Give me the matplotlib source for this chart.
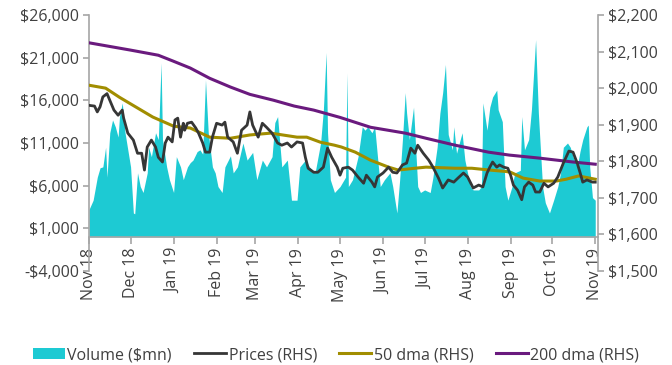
import matplotlib
matplotlib.use("Agg")
import matplotlib.pyplot as plt
import matplotlib.dates as mdates
from matplotlib.patches import Patch
from matplotlib.lines import Line2D
import pandas as pd

plt.rcParams['font.family'] = ['Open Sans', 'DejaVu Sans']

# ---------------- data ----------------
vol_dates = ["2018-11-01","2018-11-04","2018-11-07","2018-11-09","2018-11-11","2018-11-13","2018-11-14",
"2018-11-16","2018-11-18","2018-11-20","2018-11-22","2018-11-23","2018-11-25","2018-11-27","2018-12-01",
"2018-12-03","2018-12-04","2018-12-06","2018-12-08","2018-12-10","2018-12-13","2018-12-14","2018-12-16",
"2018-12-19","2018-12-21","2018-12-23","2018-12-24","2018-12-27","2018-12-29","2019-01-01","2019-01-03",
"2019-01-06","2019-01-08","2019-01-11","2019-01-13","2019-01-15","2019-01-18","2019-01-20","2019-01-22",
"2019-01-24","2019-01-26","2019-01-29","2019-01-31","2019-02-02","2019-02-05","2019-02-07","2019-02-11",
"2019-02-13","2019-02-16","2019-02-20","2019-02-23","2019-02-27","2019-03-02","2019-03-06","2019-03-09",
"2019-03-13","2019-03-15","2019-03-17","2019-03-20","2019-03-24","2019-03-27","2019-03-31","2019-04-02",
"2019-04-06","2019-04-09","2019-04-13","2019-04-17","2019-04-19","2019-04-21","2019-04-22","2019-04-24",
"2019-04-27","2019-05-01","2019-05-05","2019-05-06","2019-05-07","2019-05-10","2019-05-14","2019-05-17",
"2019-05-19","2019-05-21","2019-05-24","2019-05-26","2019-05-30","2019-06-02","2019-06-06","2019-06-08",
"2019-06-11","2019-06-13","2019-06-15","2019-06-17","2019-06-18","2019-06-20","2019-06-23","2019-06-26",
"2019-06-28","2019-07-01","2019-07-05","2019-07-07","2019-07-10","2019-07-12","2019-07-14","2019-07-16",
"2019-07-18","2019-07-21","2019-07-22","2019-07-24","2019-07-28","2019-07-30","2019-08-03","2019-08-05",
"2019-08-09","2019-08-11","2019-08-12","2019-08-15","2019-08-17","2019-08-19","2019-08-22","2019-08-23",
"2019-08-26","2019-08-28","2019-08-30","2019-09-02","2019-09-04","2019-09-08","2019-09-09","2019-09-11",
"2019-09-14","2019-09-16","2019-09-19","2019-09-21","2019-09-24","2019-09-26","2019-09-29","2019-10-02",
"2019-10-05","2019-10-07","2019-10-09","2019-10-12","2019-10-14","2019-10-16","2019-10-19","2019-10-21",
"2019-10-23","2019-10-26","2019-10-27","2019-10-28","2019-10-30","2019-11-01"]
vol_values = [3200,4300,7000,8100,8200,10500,7000,
12200,13700,12900,11700,14100,15700,12200,8200,
2800,2700,7500,5900,5200,7500,10500,9400,
12200,11400,20400,11400,8200,6700,5200,9400,
8200,6700,8200,8700,9000,10000,10200,9700,
18400,12200,8200,7500,5900,5200,8200,9500,
7500,8200,11000,9000,9900,6700,9000,8200,
9400,13400,14100,8200,9000,4300,4300,8200,
9000,8200,7500,11000,14900,21600,12200,6700,
5200,5900,7000,19200,5900,6700,9400,12900,
12500,12900,12200,12900,5900,6700,7500,5900,
2800,6700,11400,16900,14500,11400,15200,5900,
5200,5500,5200,7000,10500,14500,16900,20200,
12000,10200,12900,9800,12200,9000,5900,5500,
5500,5900,15700,12500,15200,16400,17200,14900,
13500,5900,4300,5900,7500,7800,14100,10200,
11400,14900,23100,14500,5900,4000,2800,4300,
5900,7500,10500,11000,10500,9400,8200,10000,
11400,12900,13100,8200,4600,4300]

price_dates = ["2018-11-01","2018-11-05","2018-11-07","2018-11-09","2018-11-11","2018-11-14","2018-11-16",
"2018-11-19","2018-11-22","2018-11-25","2018-11-26","2018-11-29","2018-12-03","2018-12-06","2018-12-09",
"2018-12-11","2018-12-13","2018-12-16","2018-12-19","2018-12-21","2018-12-24","2018-12-26","2018-12-28",
"2018-12-31","2019-01-02","2019-01-04","2019-01-06","2019-01-08","2019-01-09","2019-01-11","2019-01-14",
"2019-01-17","2019-01-19","2019-01-22","2019-01-24","2019-01-27","2019-01-29","2019-02-01","2019-02-05",
"2019-02-07","2019-02-09","2019-02-13","2019-02-16","2019-02-19","2019-02-23","2019-02-25","2019-02-27",
"2019-03-03","2019-03-06","2019-03-09","2019-03-13","2019-03-17","2019-03-20","2019-03-24","2019-03-27",
"2019-03-31","2019-04-04","2019-04-06","2019-04-08","2019-04-12","2019-04-15","2019-04-19","2019-04-22",
"2019-04-25","2019-04-29","2019-05-01","2019-05-03","2019-05-07","2019-05-10","2019-05-14","2019-05-18",
"2019-05-20","2019-05-24","2019-05-26","2019-05-28","2019-06-01","2019-06-05","2019-06-08","2019-06-11",
"2019-06-15","2019-06-18","2019-06-21","2019-06-24","2019-06-26","2019-06-30","2019-07-04","2019-07-07",
"2019-07-11","2019-07-14","2019-07-18","2019-07-22","2019-07-25","2019-07-29","2019-08-01","2019-08-05",
"2019-08-09","2019-08-12","2019-08-15","2019-08-17","2019-08-19","2019-08-22","2019-08-24","2019-08-27",
"2019-08-30","2019-09-01","2019-09-03","2019-09-06","2019-09-09","2019-09-11","2019-09-14","2019-09-17",
"2019-09-19","2019-09-22","2019-09-25","2019-09-28","2019-10-02","2019-10-05","2019-10-09","2019-10-13",
"2019-10-16","2019-10-19","2019-10-21","2019-10-23","2019-10-26","2019-10-30","2019-11-01"]
price_values = [1953,1951,1935,1949,1976,1985,1967,
1940,1926,1940,1918,1877,1858,1822,1822,
1776,1839,1858,1839,1811,1798,1850,1866,
1853,1913,1918,1866,1904,1885,1904,1907,
1891,1877,1850,1825,1825,1866,1904,1899,
1907,1866,1853,1822,1885,1899,1935,1899,
1866,1904,1893,1877,1850,1844,1850,1839,
1853,1850,1811,1781,1770,1770,1784,1836,
1811,1784,1762,1781,1784,1776,1757,1740,
1762,1743,1730,1757,1768,1784,1770,1768,
1790,1795,1836,1822,1844,1822,1803,1784,
1754,1727,1749,1743,1754,1768,1757,1727,
1735,1730,1768,1784,1798,1784,1790,1784,
1781,1762,1735,1721,1695,1730,1743,1735,
1716,1716,1740,1730,1740,1757,1795,1828,
1825,1795,1770,1743,1749,1743,1743]

dma50_dates = ["2018-11-01","2018-11-13","2018-11-23","2018-12-05","2018-12-17","2019-01-01","2019-01-13",
"2019-01-27","2019-02-11","2019-02-25","2019-03-12","2019-03-31","2019-04-07","2019-04-17","2019-04-27",
"2019-05-02","2019-05-12","2019-05-23","2019-06-05","2019-06-12","2019-06-24","2019-07-02","2019-07-23",
"2019-08-04","2019-08-17","2019-08-29","2019-09-01","2019-09-10","2019-09-22","2019-10-04","2019-10-11",
"2019-10-20","2019-11-01"]
dma50_values = [2008,2000,1975,1948,1921,1896,1891,
1866,1863,1872,1877,1866,1866,1852,1844,
1839,1825,1803,1784,1776,1781,1784,1781,
1781,1776,1772,1770,1754,1746,1746,1751,
1760,1751]

dma200_dates = ["2018-11-01","2018-12-01","2018-12-21","2018-12-31","2019-01-13","2019-01-27","2019-02-11",
"2019-02-25","2019-03-14","2019-03-29","2019-04-12","2019-05-01","2019-05-23","2019-06-17","2019-07-02",
"2019-07-23","2019-08-16","2019-08-31","2019-09-21","2019-10-16","2019-11-01"]
dma200_values = [2124,2104,2090,2075,2055,2027,2003,
1983,1967,1951,1940,1920,1893,1877,1863,
1844,1825,1817,1809,1798,1792]

labels = ["Volume ($mn)", "Prices (RHS)", "50 dma (RHS)", "200 dma (RHS)"]

# ---------------- styles ----------------
C_VOL = "#1DCAD3"
C_PRICE = "#363636"
C_50 = "#A18D00"
C_200 = "#6A1A7E"
C_AXIS = "#A6A6A6"
C_TEXT = "#404040"
FS = 11.5

fig = plt.figure(figsize=(6.72, 3.65), dpi=100)
ax = fig.add_axes([0.1324, 0.2575, 0.7575, 0.7014])

vd = pd.to_datetime(vol_dates)
ax.fill_between(vd, vol_values, 0, color=C_VOL, linewidth=0, zorder=1)
ax.set_ylim(-4000, 26000)
ax.set_yticks(range(-4000, 26001, 5000))
ax.yaxis.set_major_formatter(plt.FuncFormatter(
    lambda v, p: ("-$" if v < 0 else "$") + f"{abs(int(v)):,}"))
ax.set_xlim(pd.Timestamp("2018-11-01"), pd.Timestamp("2019-11-03"))
ax.xaxis.set_major_locator(mdates.MonthLocator())
ax.xaxis.set_major_formatter(mdates.DateFormatter("%b %y"))
ax.spines['bottom'].set_position(('data', 0))
for s in ['top', 'right']:
    ax.spines[s].set_visible(False)
for s in ['left', 'bottom']:
    ax.spines[s].set_color(C_AXIS)
    ax.spines[s].set_linewidth(1.2)
ax.tick_params(axis='y', colors=C_AXIS, labelcolor=C_TEXT, labelsize=FS, length=4, width=1.2, pad=3)
ax.tick_params(axis='x', colors=C_AXIS, labelcolor=C_TEXT, labelsize=FS, length=5, width=1.2,
               labelrotation=90, pad=3)
for lbl in ax.get_xticklabels():
    lbl.set_va('top')

ax2 = ax.twinx()
ax2.plot(pd.to_datetime(price_dates), price_values, color=C_PRICE, lw=2.0, zorder=3)
ax2.plot(pd.to_datetime(dma50_dates), dma50_values, color=C_50, lw=2.2, zorder=2)
ax2.plot(pd.to_datetime(dma200_dates), dma200_values, color=C_200, lw=2.2, zorder=2)
ax2.set_ylim(1500, 2200)
ax2.set_yticks(range(1500, 2201, 100))
ax2.yaxis.set_major_formatter(plt.FuncFormatter(lambda v, p: f"${int(v):,}"))
for s in ['top', 'left', 'bottom']:
    ax2.spines[s].set_visible(False)
ax2.spines['right'].set_color(C_AXIS)
ax2.spines['right'].set_linewidth(1.2)
ax2.tick_params(axis='y', colors=C_AXIS, labelcolor=C_TEXT, labelsize=FS, length=4, width=1.2, pad=3)
ax2.set_xlim(pd.Timestamp("2018-11-01"), pd.Timestamp("2019-11-03"))

handles = [Patch(facecolor=C_VOL, edgecolor='none'),
           Line2D([], [], color=C_PRICE, lw=2.0),
           Line2D([], [], color=C_50, lw=2.2),
           Line2D([], [], color=C_200, lw=2.2)]
leg = fig.legend(handles, labels, loc='center', bbox_to_anchor=(0.5, 1 - 355 / 365), ncol=4,
                 frameon=False, fontsize=FS, handlelength=2.0, handletextpad=0.15,
                 columnspacing=1.4, labelcolor=C_TEXT)

fig.savefig("out.png", dpi=100)
